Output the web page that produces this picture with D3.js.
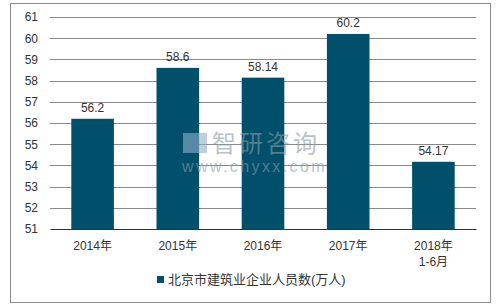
<!DOCTYPE html>
<html>
<head>
<meta charset="utf-8">
<script src="https://cdn.jsdelivr.net/npm/d3@7"></script>
<style>
  body { margin: 0; background: #fff; }
  text { font-family: "Liberation Sans", Arial, "Noto Sans CJK SC", sans-serif; fill: #333; }
</style>
</head>
<body>
<svg id="chart" width="503" height="308"></svg>
<script>
// data
var categories = [["2014年"], ["2015年"], ["2016年"], ["2017年"], ["2018年", "1-6月"]]
var values = [56.2, 58.6, 58.14, 60.2, 54.17]
var labels = ["56.2", "58.6", "58.14", "60.2", "54.17"]
var yTicks = [51, 52, 53, 54, 55, 56, 57, 58, 59, 60, 61]
var seriesName = "北京市建筑业企业人员数(万人)"

var svg = d3.select("#chart")
var color = "#00506c"

svg.append("rect")
  .attr("x", 10.5).attr("y", 3.5)
  .attr("width", 480).attr("height", 299)
  .attr("fill", "#fff").attr("stroke", "#8c8c8c")

var margin = { left: 50, right: 27, top: 17, bottom: 79 }
var width = 503 - margin.left - margin.right
var height = 308 - margin.top - margin.bottom

var x = d3.scaleBand().domain(d3.range(values.length)).range([0, width]).paddingInner(0.5).paddingOuter(0.25)
var y = d3.scaleLinear().domain([51, 61]).range([height, 0])

var g = svg.append("g").attr("transform", "translate(" + margin.left + "," + margin.top + ")")

// grid
g.selectAll(".grid")
  .data(yTicks.slice(1))
  .enter().append("line")
  .attr("x1", 0).attr("x2", width)
  .attr("y1", function (d) { return Math.round(y(d)) + 0.5 })
  .attr("y2", function (d) { return Math.round(y(d)) + 0.5 })
  .attr("stroke", "#8a8a8a")

var yAxis = g.append("g")
  .call(d3.axisLeft(y).tickValues(yTicks).tickSize(0).tickPadding(12))
yAxis.select(".domain").remove()
yAxis.selectAll("text").attr("font-size", 12).style("fill", "#333")

// bars
g.selectAll(".bar")
  .data(values)
  .enter().append("rect")
  .attr("x", function (d, i) { return x(i) })
  .attr("y", function (d) { return y(d) })
  .attr("width", x.bandwidth())
  .attr("height", function (d) { return height - y(d) })
  .attr("fill", color)

g.selectAll(".val")
  .data(values)
  .enter().append("text")
  .attr("x", function (d, i) { return x(i) + x.bandwidth() / 2 })
  .attr("y", function (d) { return y(d) - 7 })
  .attr("text-anchor", "middle")
  .attr("font-size", 12)
  .text(function (d, i) { return labels[i] })

// x axis
var xAxis = g.append("g")
  .attr("transform", "translate(0," + height + ")")
  .call(d3.axisBottom(x).tickSize(0).tickFormat(""))
xAxis.select(".domain").attr("stroke", "#333").attr("stroke-width", 1.2)

g.selectAll(".cat")
  .data(categories)
  .enter().append("text")
  .attr("x", function (d, i) { return x(i) + x.bandwidth() / 2 })
  .attr("y", height + 21)
  .attr("text-anchor", "middle")
  .attr("font-size", 12)
  .each(function (d) {
    var t = d3.select(this)
    d.forEach(function (line, k) {
      t.append("tspan").attr("x", t.attr("x")).attr("dy", k ? 16 : 0).text(line)
    })
  })

// legend
var legend = svg.append("g").attr("transform", "translate(157,275)")
legend.append("rect").attr("width", 7).attr("height", 7).attr("y", 1).attr("fill", color)
legend.append("text").attr("x", 11).attr("y", 9).attr("font-size", 13).text(seriesName)

// watermark
var wm = svg.append("g").attr("opacity", 0.6)
wm.append("rect").attr("x", 183).attr("y", 133).attr("width", 24).attr("height", 20).attr("fill", "#8fb0cc")
wm.append("text").attr("x", 212).attr("y", 152).attr("font-size", 24).attr("letter-spacing", 3).style("fill", "#8a9aa6").text("智研咨询")
wm.append("text").attr("x", 182).attr("y", 172).attr("font-size", 16).attr("letter-spacing", 2.4).style("fill", "#8a9aa6").text("www.chyxx.com")
</script>
</body>
</html>
